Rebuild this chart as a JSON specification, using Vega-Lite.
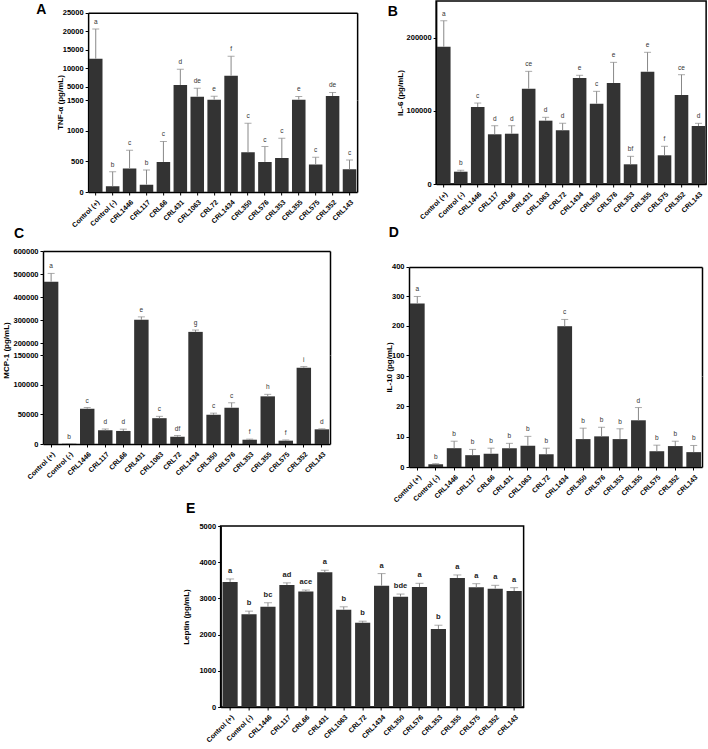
{
  "$schema": "https://vega.github.io/schema/vega-lite/v6.json",
  "padding": {"left": 2, "top": 0, "right": 0, "bottom": 0},
  "background": "white",
  "config": {
    "font": "Liberation Sans",
    "view": {"stroke": null},
    "axis": {"labelFont": "Liberation Sans", "labelFontWeight": "bold", "labelColor": "#000", "titleFont": "Liberation Sans", "titleFontSize": 8, "titleFontWeight": "bold", "titleColor": "#000", "domainColor": "#000", "domainWidth": 1.5, "tickColor": "#000", "tickWidth": 1, "tickSize": 3, "grid": false, "labelPadding": 2, "titlePadding": 2, "labelOverlap": false},
    "axisY": {"labelFontSize": 7.5},
    "axisX": {"labelAngle": -45, "labelPadding": 3, "labelFontSize": 7},
    "title": {"font": "Liberation Sans", "fontSize": 14, "fontWeight": "bold", "anchor": "start", "color": "#000"}
  },
  "datasets": {
    "tnf": [
      {"cat": "Control (+)", "v": 12600, "hi": 20600, "lab": "a"},
      {"cat": "Control (-)", "v": 95, "hi": 330, "lab": "b"},
      {"cat": "CRL1446", "v": 385, "hi": 680, "lab": "c"},
      {"cat": "CRL117", "v": 120, "hi": 360, "lab": "b"},
      {"cat": "CRL66", "v": 490, "hi": 825, "lab": "c"},
      {"cat": "CRL431", "v": 5550, "hi": 9750, "lab": "d"},
      {"cat": "CRL1063", "v": 2400, "hi": 4650, "lab": "de"},
      {"cat": "CRL72", "v": 1600, "hi": 2500, "lab": "e"},
      {"cat": "CRL1434", "v": 8050, "hi": 13250, "lab": "f"},
      {"cat": "CRL350", "v": 650, "hi": 1120, "lab": "c"},
      {"cat": "CRL576", "v": 490, "hi": 740, "lab": "c"},
      {"cat": "CRL353", "v": 555, "hi": 875, "lab": "c"},
      {"cat": "CRL355", "v": 1600, "hi": 2450, "lab": "e"},
      {"cat": "CRL575", "v": 450, "hi": 565, "lab": "c"},
      {"cat": "CRL352", "v": 2580, "hi": 3550, "lab": "de"},
      {"cat": "CRL143", "v": 370, "hi": 520, "lab": "c"}
    ],
    "il6": [
      {"cat": "Control (+)", "v": 187500, "hi": 223000, "lab": "a"},
      {"cat": "Control (-)", "v": 16800, "hi": 18800, "lab": "b"},
      {"cat": "CRL1446", "v": 105200, "hi": 110600, "lab": "c"},
      {"cat": "CRL117", "v": 67900, "hi": 79600, "lab": "d"},
      {"cat": "CRL66", "v": 68700, "hi": 79600, "lab": "d"},
      {"cat": "CRL431", "v": 130200, "hi": 153900, "lab": "ce"},
      {"cat": "CRL1063", "v": 86500, "hi": 91100, "lab": "d"},
      {"cat": "CRL72", "v": 73300, "hi": 82900, "lab": "d"},
      {"cat": "CRL1434", "v": 144800, "hi": 148500, "lab": "e"},
      {"cat": "CRL350", "v": 109700, "hi": 126600, "lab": "c"},
      {"cat": "CRL576", "v": 138000, "hi": 166200, "lab": "e"},
      {"cat": "CRL353", "v": 26900, "hi": 37800, "lab": "bf"},
      {"cat": "CRL355", "v": 153400, "hi": 179900, "lab": "e"},
      {"cat": "CRL575", "v": 39200, "hi": 51500, "lab": "f"},
      {"cat": "CRL352", "v": 121600, "hi": 149300, "lab": "ce"},
      {"cat": "CRL143", "v": 79200, "hi": 82900, "lab": "d"}
    ],
    "mcp": [
      {"cat": "Control (+)", "v": 467000, "hi": 503000, "lab": "a"},
      {"cat": "Control (-)", "v": 300, "hi": 300, "lab": "b"},
      {"cat": "CRL1446", "v": 59400, "hi": 61500, "lab": "c"},
      {"cat": "CRL117", "v": 23000, "hi": 25300, "lab": "d"},
      {"cat": "CRL66", "v": 22000, "hi": 25000, "lab": "d"},
      {"cat": "CRL431", "v": 302000, "hi": 315000, "lab": "e"},
      {"cat": "CRL1063", "v": 43500, "hi": 46600, "lab": "c"},
      {"cat": "CRL72", "v": 12300, "hi": 14300, "lab": "df"},
      {"cat": "CRL1434", "v": 250000, "hi": 258000, "lab": "g"},
      {"cat": "CRL350", "v": 49300, "hi": 52000, "lab": "c"},
      {"cat": "CRL576", "v": 61100, "hi": 69500, "lab": "c"},
      {"cat": "CRL353", "v": 7200, "hi": 8200, "lab": "f"},
      {"cat": "CRL355", "v": 80300, "hi": 83700, "lab": "h"},
      {"cat": "CRL575", "v": 5600, "hi": 6800, "lab": "f"},
      {"cat": "CRL352", "v": 128500, "hi": 130500, "lab": "i"},
      {"cat": "CRL143", "v": 24700, "hi": 25600, "lab": "d"}
    ],
    "il10": [
      {"cat": "Control (+)", "v": 276, "hi": 300, "lab": "a"},
      {"cat": "Control (-)", "v": 0.9, "hi": 1.1, "lab": "b"},
      {"cat": "CRL1446", "v": 6.2, "hi": 8.5, "lab": "b"},
      {"cat": "CRL117", "v": 3.9, "hi": 5.8, "lab": "b"},
      {"cat": "CRL66", "v": 4.4, "hi": 6.2, "lab": "b"},
      {"cat": "CRL431", "v": 6.2, "hi": 7.8, "lab": "b"},
      {"cat": "CRL1063", "v": 7.0, "hi": 10.1, "lab": "b"},
      {"cat": "CRL72", "v": 4.2, "hi": 6.2, "lab": "b"},
      {"cat": "CRL1434", "v": 199, "hi": 222, "lab": "c"},
      {"cat": "CRL350", "v": 9.2, "hi": 12.8, "lab": "b"},
      {"cat": "CRL576", "v": 10.1, "hi": 13.1, "lab": "b"},
      {"cat": "CRL353", "v": 9.2, "hi": 12.6, "lab": "b"},
      {"cat": "CRL355", "v": 15.4, "hi": 19.6, "lab": "d"},
      {"cat": "CRL575", "v": 5.2, "hi": 7.2, "lab": "b"},
      {"cat": "CRL352", "v": 6.9, "hi": 8.5, "lab": "b"},
      {"cat": "CRL143", "v": 4.9, "hi": 7.1, "lab": "b"}
    ],
    "lep": [
      {"cat": "Control (+)", "v": 3455, "hi": 3537, "lab": "a"},
      {"cat": "Control (-)", "v": 2565, "hi": 2648, "lab": "b"},
      {"cat": "CRL1446", "v": 2769, "hi": 2880, "lab": "bc"},
      {"cat": "CRL117", "v": 3370, "hi": 3430, "lab": "ad"},
      {"cat": "CRL66", "v": 3194, "hi": 3231, "lab": "ace"},
      {"cat": "CRL431", "v": 3722, "hi": 3778, "lab": "a"},
      {"cat": "CRL1063", "v": 2685, "hi": 2768, "lab": "b"},
      {"cat": "CRL72", "v": 2324, "hi": 2370, "lab": "b"},
      {"cat": "CRL1434", "v": 3352, "hi": 3685, "lab": "a"},
      {"cat": "CRL350", "v": 3046, "hi": 3120, "lab": "bde"},
      {"cat": "CRL576", "v": 3315, "hi": 3417, "lab": "a"},
      {"cat": "CRL353", "v": 2157, "hi": 2259, "lab": "b"},
      {"cat": "CRL355", "v": 3565, "hi": 3648, "lab": "a"},
      {"cat": "CRL575", "v": 3305, "hi": 3407, "lab": "a"},
      {"cat": "CRL352", "v": 3269, "hi": 3361, "lab": "a"},
      {"cat": "CRL143", "v": 3204, "hi": 3296, "lab": "a"}
    ]
  },
  "center": true,
  "spacing": -3,
  "vconcat": [
    {
      "spacing": 30,
      "hconcat": [
        {
          "title": {"text": "A", "orient": "left", "anchor": "end", "angle": 0, "align": "right", "baseline": "top", "offset": 0, "dy": 2},
          "bounds": "flush",
          "spacing": 0,
          "vconcat": [
            {
              "width": 269, "height": 99,
              "data": {"name": "tnf"},
              "layer": [
                {"mark": {"type": "bar", "clip": true, "color": "#333333"},
                 "encoding": {
                   "x": {"field": "cat", "type": "nominal", "sort": null, "scale": {"paddingInner": 0.2, "paddingOuter": 0.05}, "axis": {"orient": "top", "labels": false, "ticks": false, "title": null, "offset": -11.7}},
                   "y": {"field": "v", "type": "quantitative", "scale": {"domain": [1500, 28150], "zero": false, "nice": false}, "axis": {"values": [5000, 10000, 15000, 20000, 25000], "format": "d", "title": null, "domainDash": [87.3, 40]}}}},
                {"mark": {"type": "rule", "clip": true, "color": "#888888"},
                 "encoding": {
                   "x": {"field": "cat", "type": "nominal", "sort": null},
                   "y": {"field": "v", "type": "quantitative", "scale": {"domain": [1500, 28150], "zero": false, "nice": false}, "axis": {"orient": "right", "labels": false, "ticks": false, "title": null, "minExtent": 0, "domainDash": [87.3, 40]}},
                   "y2": {"field": "hi"}}},
                {"mark": {"type": "tick", "clip": true, "color": "#888888", "size": 7, "thickness": 1},
                 "encoding": {
                   "x": {"field": "cat", "type": "nominal", "sort": null},
                   "y": {"field": "hi", "type": "quantitative", "scale": {"domain": [1500, 28150], "zero": false, "nice": false}, "axis": null}}},
                {"transform": [{"filter": "datum.hi > 1500"}],
                 "mark": {"type": "text", "dy": -7, "fontSize": 6.5, "color": "#333333"},
                 "encoding": {
                   "x": {"field": "cat", "type": "nominal", "sort": null},
                   "y": {"field": "hi", "type": "quantitative", "scale": {"domain": [1500, 28150], "zero": false, "nice": false}, "axis": null},
                   "text": {"field": "lab"}}}
              ],
              "resolve": {"axis": {"y": "independent"}}
            },
            {
              "width": 269, "height": 92,
              "data": {"name": "tnf"},
              "layer": [
                {"mark": {"type": "bar", "clip": true, "color": "#333333"},
                 "encoding": {
                   "x": {"field": "cat", "type": "nominal", "sort": null, "scale": {"paddingInner": 0.2, "paddingOuter": 0.05}, "axis": {"orient": "bottom", "title": null}},
                   "y": {"field": "v", "type": "quantitative", "scale": {"domain": [0, 1500], "nice": false}, "axis": {"values": [0, 500, 1000, 1500], "format": "d", "title": "TNF-α (pg/mL)", "titleY": 2}}}},
                {"mark": {"type": "rule", "clip": true, "color": "#888888"},
                 "encoding": {
                   "x": {"field": "cat", "type": "nominal", "sort": null},
                   "y": {"field": "v", "type": "quantitative", "scale": {"domain": [0, 1500], "nice": false}, "axis": {"orient": "right", "labels": false, "ticks": false, "title": null, "minExtent": 0}},
                   "y2": {"field": "hi"}}},
                {"mark": {"type": "tick", "clip": true, "color": "#888888", "size": 7, "thickness": 1},
                 "encoding": {
                   "x": {"field": "cat", "type": "nominal", "sort": null},
                   "y": {"field": "hi", "type": "quantitative", "scale": {"domain": [0, 1500], "nice": false}, "axis": null}}},
                {"transform": [{"filter": "datum.hi <= 1500"}],
                 "mark": {"type": "text", "dy": -7, "fontSize": 6.5, "color": "#333333"},
                 "encoding": {
                   "x": {"field": "cat", "type": "nominal", "sort": null},
                   "y": {"field": "hi", "type": "quantitative", "scale": {"domain": [0, 1500], "nice": false}, "axis": null},
                   "text": {"field": "lab"}}}
              ],
              "resolve": {"axis": {"y": "independent"}}
            }
          ]
        },
        {
          "title": {"text": "B", "orient": "left", "anchor": "end", "angle": 0, "align": "right", "baseline": "top", "offset": -12, "dy": 4},
          "width": 270, "height": 183,
          "data": {"name": "il6"},
          "view": {"stroke": "#000", "strokeWidth": 1.5},
          "layer": [
            {"mark": {"type": "bar", "color": "#333333"},
             "encoding": {
               "x": {"field": "cat", "type": "nominal", "sort": null, "scale": {"paddingInner": 0.2, "paddingOuter": 0.05}, "axis": {"title": null}},
               "y": {"field": "v", "type": "quantitative", "title": "IL-6 (pg/mL)", "scale": {"domain": [0, 250000], "nice": false}, "axis": {"values": [0, 50000, 100000, 150000, 200000, 250000], "format": "d"}}}},
            {"mark": {"type": "rule", "color": "#888888"},
             "encoding": {
               "x": {"field": "cat", "type": "nominal", "sort": null},
               "y": {"field": "v", "type": "quantitative", "title": "IL-6 (pg/mL)"},
               "y2": {"field": "hi"}}},
            {"mark": {"type": "tick", "color": "#888888", "size": 7, "thickness": 1},
             "encoding": {
               "x": {"field": "cat", "type": "nominal", "sort": null},
               "y": {"field": "hi", "type": "quantitative", "title": "IL-6 (pg/mL)"}}},
            {"mark": {"type": "text", "dy": -7, "fontSize": 6.5, "color": "#333333"},
             "encoding": {
               "x": {"field": "cat", "type": "nominal", "sort": null},
               "y": {"field": "hi", "type": "quantitative", "title": "IL-6 (pg/mL)"},
               "text": {"field": "lab"}}}
          ]
        }
      ]
    },
    {
      "spacing": 55,
      "hconcat": [
        {
          "title": {"text": "C", "dx": 11, "offset": 6},
          "bounds": "flush",
          "spacing": 0,
          "vconcat": [
            {
              "width": 287, "height": 104,
              "data": {"name": "mcp"},
              "layer": [
                {"mark": {"type": "bar", "clip": true, "color": "#333333"},
                 "encoding": {
                   "x": {"field": "cat", "type": "nominal", "sort": null, "scale": {"paddingInner": 0.2, "paddingOuter": 0.05}, "axis": {"orient": "top", "labels": false, "ticks": false, "title": null}},
                   "y": {"field": "v", "type": "quantitative", "scale": {"domain": [150000, 600000], "zero": false, "nice": false}, "axis": {"values": [200000, 300000, 400000, 500000, 600000], "format": "d", "title": null}}}},
                {"mark": {"type": "rule", "clip": true, "color": "#888888"},
                 "encoding": {
                   "x": {"field": "cat", "type": "nominal", "sort": null},
                   "y": {"field": "v", "type": "quantitative", "scale": {"domain": [150000, 600000], "zero": false, "nice": false}, "axis": {"orient": "right", "labels": false, "ticks": false, "title": null, "minExtent": 0}},
                   "y2": {"field": "hi"}}},
                {"mark": {"type": "tick", "clip": true, "color": "#888888", "size": 7, "thickness": 1},
                 "encoding": {
                   "x": {"field": "cat", "type": "nominal", "sort": null},
                   "y": {"field": "hi", "type": "quantitative", "scale": {"domain": [150000, 600000], "zero": false, "nice": false}, "axis": null}}},
                {"transform": [{"filter": "datum.hi > 150000"}],
                 "mark": {"type": "text", "dy": -7, "fontSize": 6.5, "color": "#333333"},
                 "encoding": {
                   "x": {"field": "cat", "type": "nominal", "sort": null},
                   "y": {"field": "hi", "type": "quantitative", "scale": {"domain": [150000, 600000], "zero": false, "nice": false}, "axis": null},
                   "text": {"field": "lab"}}}
              ],
              "resolve": {"axis": {"y": "independent"}}
            },
            {
              "width": 287, "height": 89,
              "data": {"name": "mcp"},
              "layer": [
                {"mark": {"type": "bar", "clip": true, "color": "#333333"},
                 "encoding": {
                   "x": {"field": "cat", "type": "nominal", "sort": null, "scale": {"paddingInner": 0.2, "paddingOuter": 0.05}, "axis": {"orient": "bottom", "title": null}},
                   "y": {"field": "v", "type": "quantitative", "scale": {"domain": [0, 150000], "nice": false}, "axis": {"values": [0, 50000, 100000, 150000], "format": "d", "title": "MCP-1 (pg/mL)", "titleY": -5}}}},
                {"mark": {"type": "rule", "clip": true, "color": "#888888"},
                 "encoding": {
                   "x": {"field": "cat", "type": "nominal", "sort": null},
                   "y": {"field": "v", "type": "quantitative", "scale": {"domain": [0, 150000], "nice": false}, "axis": {"orient": "right", "labels": false, "ticks": false, "title": null, "minExtent": 0}},
                   "y2": {"field": "hi"}}},
                {"mark": {"type": "tick", "clip": true, "color": "#888888", "size": 7, "thickness": 1},
                 "encoding": {
                   "x": {"field": "cat", "type": "nominal", "sort": null},
                   "y": {"field": "hi", "type": "quantitative", "scale": {"domain": [0, 150000], "nice": false}, "axis": null}}},
                {"transform": [{"filter": "datum.hi <= 150000"}],
                 "mark": {"type": "text", "dy": -7, "fontSize": 6.5, "color": "#333333"},
                 "encoding": {
                   "x": {"field": "cat", "type": "nominal", "sort": null},
                   "y": {"field": "hi", "type": "quantitative", "scale": {"domain": [0, 150000], "nice": false}, "axis": null},
                   "text": {"field": "lab"}}}
              ],
              "resolve": {"axis": {"y": "independent"}}
            }
          ]
        },
        {
          "title": {"text": "D", "dx": 3, "offset": 11},
          "bounds": "flush",
          "spacing": 0,
          "vconcat": [
            {
              "width": 293, "height": 125,
              "data": {"name": "il10"},
              "layer": [
                {"mark": {"type": "bar", "clip": true, "color": "#333333"},
                 "encoding": {
                   "x": {"field": "cat", "type": "nominal", "sort": null, "scale": {"paddingInner": 0.2, "paddingOuter": 0.05}, "axis": {"orient": "top", "labels": false, "ticks": false, "title": null, "offset": -16}},
                   "y": {"field": "v", "type": "quantitative", "scale": {"domain": [30, 454.3], "zero": false, "nice": false}, "axis": {"values": [100, 200, 300, 400], "format": "d", "title": null, "domainDash": [109, 40]}}}},
                {"mark": {"type": "rule", "clip": true, "color": "#888888"},
                 "encoding": {
                   "x": {"field": "cat", "type": "nominal", "sort": null},
                   "y": {"field": "v", "type": "quantitative", "scale": {"domain": [30, 454.3], "zero": false, "nice": false}, "axis": {"orient": "right", "labels": false, "ticks": false, "title": null, "minExtent": 50, "domainDash": [109, 40]}},
                   "y2": {"field": "hi"}}},
                {"mark": {"type": "tick", "clip": true, "color": "#888888", "size": 7, "thickness": 1},
                 "encoding": {
                   "x": {"field": "cat", "type": "nominal", "sort": null},
                   "y": {"field": "hi", "type": "quantitative", "scale": {"domain": [30, 454.3], "zero": false, "nice": false}, "axis": null}}},
                {"transform": [{"filter": "datum.hi > 30"}],
                 "mark": {"type": "text", "dy": -7, "fontSize": 6.5, "color": "#333333"},
                 "encoding": {
                   "x": {"field": "cat", "type": "nominal", "sort": null},
                   "y": {"field": "hi", "type": "quantitative", "scale": {"domain": [30, 454.3], "zero": false, "nice": false}, "axis": null},
                   "text": {"field": "lab"}}}
              ],
              "resolve": {"axis": {"y": "independent"}}
            },
            {
              "width": 293, "height": 91,
              "data": {"name": "il10"},
              "layer": [
                {"mark": {"type": "bar", "clip": true, "color": "#333333"},
                 "encoding": {
                   "x": {"field": "cat", "type": "nominal", "sort": null, "scale": {"paddingInner": 0.2, "paddingOuter": 0.05}, "axis": {"orient": "bottom", "title": null}},
                   "y": {"field": "v", "type": "quantitative", "scale": {"domain": [0, 30], "nice": false}, "axis": {"values": [0, 10, 20, 30], "format": "d", "title": "IL-10 (pg/mL)", "titleY": -9}}}},
                {"mark": {"type": "rule", "clip": true, "color": "#888888"},
                 "encoding": {
                   "x": {"field": "cat", "type": "nominal", "sort": null},
                   "y": {"field": "v", "type": "quantitative", "scale": {"domain": [0, 30], "nice": false}, "axis": {"orient": "right", "labels": false, "ticks": false, "title": null, "minExtent": 50}},
                   "y2": {"field": "hi"}}},
                {"mark": {"type": "tick", "clip": true, "color": "#888888", "size": 7, "thickness": 1},
                 "encoding": {
                   "x": {"field": "cat", "type": "nominal", "sort": null},
                   "y": {"field": "hi", "type": "quantitative", "scale": {"domain": [0, 30], "nice": false}, "axis": null}}},
                {"transform": [{"filter": "datum.hi <= 30"}],
                 "mark": {"type": "text", "dy": -7, "fontSize": 6.5, "color": "#333333"},
                 "encoding": {
                   "x": {"field": "cat", "type": "nominal", "sort": null},
                   "y": {"field": "hi", "type": "quantitative", "scale": {"domain": [0, 30], "nice": false}, "axis": null},
                   "text": {"field": "lab"}}}
              ],
              "resolve": {"axis": {"y": "independent"}}
            }
          ]
        }
      ]
    },
    {
      "title": {"text": "E", "dx": 3, "offset": 6},
      "width": 303, "height": 181,
      "data": {"name": "lep"},
      "view": {"stroke": "#000", "strokeWidth": 1.5},
      "layer": [
        {"mark": {"type": "bar", "color": "#333333"},
         "encoding": {
           "x": {"field": "cat", "type": "nominal", "sort": null, "scale": {"paddingInner": 0.2, "paddingOuter": 0.1}, "axis": {"title": null}},
           "y": {"field": "v", "type": "quantitative", "scale": {"domain": [0, 5000], "nice": false}, "axis": {"values": [0, 1000, 2000, 3000, 4000, 5000], "format": "d", "title": "Leptin (pg/mL)", "titlePadding": 8}}}},
        {"mark": {"type": "rule", "color": "#888888"},
         "encoding": {
           "x": {"field": "cat", "type": "nominal", "sort": null},
           "y": {"field": "v", "type": "quantitative", "scale": {"domain": [0, 5000], "nice": false}, "axis": {"orient": "right", "labels": false, "ticks": false, "domain": false, "title": null, "minExtent": 50}},
           "y2": {"field": "hi"}}},
        {"mark": {"type": "tick", "color": "#888888", "size": 8, "thickness": 1},
         "encoding": {
           "x": {"field": "cat", "type": "nominal", "sort": null},
           "y": {"field": "hi", "type": "quantitative", "scale": {"domain": [0, 5000], "nice": false}, "axis": null}}},
        {"mark": {"type": "text", "dy": -8, "fontSize": 7.5, "fontWeight": "bold", "color": "#222222"},
         "encoding": {
           "x": {"field": "cat", "type": "nominal", "sort": null},
           "y": {"field": "hi", "type": "quantitative", "scale": {"domain": [0, 5000], "nice": false}, "axis": null},
           "text": {"field": "lab"}}}
      ],
      "resolve": {"axis": {"y": "independent"}}
    }
  ]
}
